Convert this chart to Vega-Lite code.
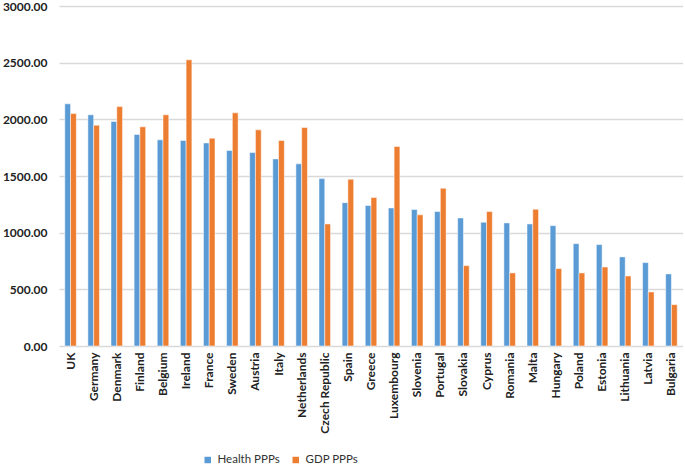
{
  "$schema": "https://vega.github.io/schema/vega-lite/v6.json",
  "width": 624,
  "height": 340,
  "padding": {"left": 2, "top": 0, "right": 0, "bottom": 0},
  "config": {
    "view": {"stroke": null},
    "font": "Lato"
  },
  "data": {
    "values": [
      {"country": "UK", "series": "Health PPPs", "value": 2137},
      {"country": "UK", "series": "GDP PPPs", "value": 2051},
      {"country": "Germany", "series": "Health PPPs", "value": 2040},
      {"country": "Germany", "series": "GDP PPPs", "value": 1948},
      {"country": "Denmark", "series": "Health PPPs", "value": 1981},
      {"country": "Denmark", "series": "GDP PPPs", "value": 2113},
      {"country": "Finland", "series": "Health PPPs", "value": 1866},
      {"country": "Finland", "series": "GDP PPPs", "value": 1934},
      {"country": "Belgium", "series": "Health PPPs", "value": 1819},
      {"country": "Belgium", "series": "GDP PPPs", "value": 2040},
      {"country": "Ireland", "series": "Health PPPs", "value": 1813},
      {"country": "Ireland", "series": "GDP PPPs", "value": 2525},
      {"country": "France", "series": "Health PPPs", "value": 1792},
      {"country": "France", "series": "GDP PPPs", "value": 1834},
      {"country": "Sweden", "series": "Health PPPs", "value": 1725},
      {"country": "Sweden", "series": "GDP PPPs", "value": 2057},
      {"country": "Austria", "series": "Health PPPs", "value": 1707},
      {"country": "Austria", "series": "GDP PPPs", "value": 1907},
      {"country": "Italy", "series": "Health PPPs", "value": 1651},
      {"country": "Italy", "series": "GDP PPPs", "value": 1813},
      {"country": "Netherlands", "series": "Health PPPs", "value": 1607},
      {"country": "Netherlands", "series": "GDP PPPs", "value": 1928},
      {"country": "Czech Republic", "series": "Health PPPs", "value": 1477},
      {"country": "Czech Republic", "series": "GDP PPPs", "value": 1077},
      {"country": "Spain", "series": "Health PPPs", "value": 1265},
      {"country": "Spain", "series": "GDP PPPs", "value": 1472},
      {"country": "Greece", "series": "Health PPPs", "value": 1239},
      {"country": "Greece", "series": "GDP PPPs", "value": 1310},
      {"country": "Luxembourg", "series": "Health PPPs", "value": 1218},
      {"country": "Luxembourg", "series": "GDP PPPs", "value": 1760},
      {"country": "Slovenia", "series": "Health PPPs", "value": 1204},
      {"country": "Slovenia", "series": "GDP PPPs", "value": 1157},
      {"country": "Portugal", "series": "Health PPPs", "value": 1186},
      {"country": "Portugal", "series": "GDP PPPs", "value": 1392},
      {"country": "Slovakia", "series": "Health PPPs", "value": 1130},
      {"country": "Slovakia", "series": "GDP PPPs", "value": 709},
      {"country": "Cyprus", "series": "Health PPPs", "value": 1092},
      {"country": "Cyprus", "series": "GDP PPPs", "value": 1186},
      {"country": "Romania", "series": "Health PPPs", "value": 1086},
      {"country": "Romania", "series": "GDP PPPs", "value": 645},
      {"country": "Malta", "series": "Health PPPs", "value": 1077},
      {"country": "Malta", "series": "GDP PPPs", "value": 1207},
      {"country": "Hungary", "series": "Health PPPs", "value": 1062},
      {"country": "Hungary", "series": "GDP PPPs", "value": 683},
      {"country": "Poland", "series": "Health PPPs", "value": 903},
      {"country": "Poland", "series": "GDP PPPs", "value": 645},
      {"country": "Estonia", "series": "Health PPPs", "value": 895},
      {"country": "Estonia", "series": "GDP PPPs", "value": 697},
      {"country": "Lithuania", "series": "Health PPPs", "value": 786},
      {"country": "Lithuania", "series": "GDP PPPs", "value": 618},
      {"country": "Latvia", "series": "Health PPPs", "value": 736},
      {"country": "Latvia", "series": "GDP PPPs", "value": 477},
      {"country": "Bulgaria", "series": "Health PPPs", "value": 636},
      {"country": "Bulgaria", "series": "GDP PPPs", "value": 365}
    ]
  },
  "mark": {"type": "bar", "stroke": "white", "strokeWidth": 0.5},
  "encoding": {
    "x": {
      "field": "country",
      "type": "nominal",
      "sort": null,
      "scale": {"paddingInner": 0.5, "paddingOuter": 0.25},
      "axis": {
        "title": null,
        "labelAngle": -90,
        "labelFontWeight": "bold",
        "labelFontSize": 12,
        "labelColor": "#222222",
        "ticks": false,
        "domain": false,
        "labelPadding": 6
      }
    },
    "xOffset": {
      "field": "series",
      "type": "nominal",
      "sort": ["Health PPPs", "GDP PPPs"]
    },
    "y": {
      "field": "value",
      "type": "quantitative",
      "scale": {"domain": [0, 3000]},
      "axis": {
        "title": null,
        "values": [0, 500, 1000, 1500, 2000, 2500, 3000],
        "format": ".2f",
        "labelFontWeight": "bold",
        "labelFontSize": 12,
        "labelColor": "#222222",
        "ticks": false,
        "domain": false,
        "labelPadding": 12,
        "gridColor": "#d9d9d9",
        "gridWidth": 1.5
      }
    },
    "color": {
      "field": "series",
      "type": "nominal",
      "sort": ["Health PPPs", "GDP PPPs"],
      "scale": {"domain": ["Health PPPs", "GDP PPPs"], "range": ["#5B9BD5", "#ED7D31"]},
      "legend": {
        "title": null,
        "orient": "none",
        "legendX": 143,
        "legendY": 448,
        "direction": "horizontal",
        "symbolType": "square",
        "symbolSize": 64,
        "labelFontSize": 11.5,
        "labelColor": "#333333",
        "labelFontWeight": "normal",
        "columnPadding": 8
      }
    }
  }
}
